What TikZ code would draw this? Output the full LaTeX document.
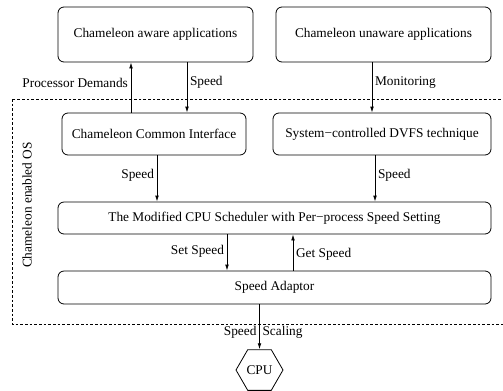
\documentclass[tikz,border=0pt]{standalone}
\usepackage{fontspec}
\setmainfont{Liberation Serif}
\usetikzlibrary{arrows.meta,shapes.geometric}

\tikzset{
  box/.style={draw, line width=0.6pt, rounded corners=4.5pt, inner sep=0pt},
  flow/.style={line width=0.6pt, -{Latex[length=4.5pt,width=2.8pt]}},
  lbl/.style={inner sep=2pt},
}

\begin{document}
\begin{tikzpicture}[x=0.75pt,y=-0.75pt]
    \useasboundingbox (0,0) rectangle (503,390);
    \draw[dash pattern=on 2pt off 1.5pt, line width=0.6pt] (12,99) rectangle (512,324);
    \node[rotate=90] (os) at (27,205) {Chameleon enabled OS};

    \node[box, minimum width=146.25pt, minimum height=41.25pt] (aware) at (155.5,34.5) {Chameleon aware applications};
    \node[box, minimum width=161.25pt, minimum height=41.25pt] (unaware) at (383.5,34.5) {Chameleon unaware applications};
    \node[box, minimum width=138pt, minimum height=31.5pt] (cci) at (154,134) {Chameleon Common Interface};
    \node[box, minimum width=163.5pt, minimum height=31.5pt] (dvfs) at (382,134) {System−controlled DVFS technique};
    \node[box, minimum width=324.75pt, minimum height=24pt] (sched) at (274.5,218) {The Modified CPU Scheduler with Per−process Speed Setting};
    \node[box, minimum width=324.75pt, minimum height=24.75pt] (adaptor) at (274.5,287.5) {Speed Adaptor};
    \node[draw, line width=0.6pt, regular polygon, regular polygon sides=6, minimum size=35.25pt, inner sep=0pt] (cpu) at (259.5,370) {CPU};

    \draw[flow] ([xshift=-17.25pt]cci.north) coordinate (pd) -- node[lbl, left, pos=0.6] {Processor Demands} (pd |- aware.south);
    \draw[flow] ([xshift=23.625pt]aware.south) coordinate (sp) -- node[lbl, right, pos=0.4] {Speed} (sp |- cci.north);
    \draw[flow] ([xshift=-8.625pt]unaware.south) coordinate (mon) -- node[lbl, right, pos=0.4] {Monitoring} (mon |- dvfs.north);
    \draw[flow] ([xshift=2.25pt]cci.south) coordinate (cs) -- node[lbl, left, pos=0.43] {Speed} (cs |- sched.north);
    \draw[flow] ([xshift=-5.25pt]dvfs.south) coordinate (ds) -- node[lbl, right, pos=0.43] {Speed} (ds |- sched.north);
    \draw[flow] ([xshift=-35.625pt]sched.south) coordinate (set) -- node[lbl, left, pos=0.46] {Set Speed} (set |- adaptor.north);
    \draw[flow] ([xshift=13.875pt]adaptor.north) coordinate (get) -- node[lbl, right, pos=0.46] {Get Speed} (get |- sched.south);
    \draw[flow] (adaptor.south -| cpu.north) -- node[lbl, left, pos=0.63] {Speed} node[lbl, right, pos=0.63] {Scaling} (cpu.north);
\end{tikzpicture}
\end{document}
